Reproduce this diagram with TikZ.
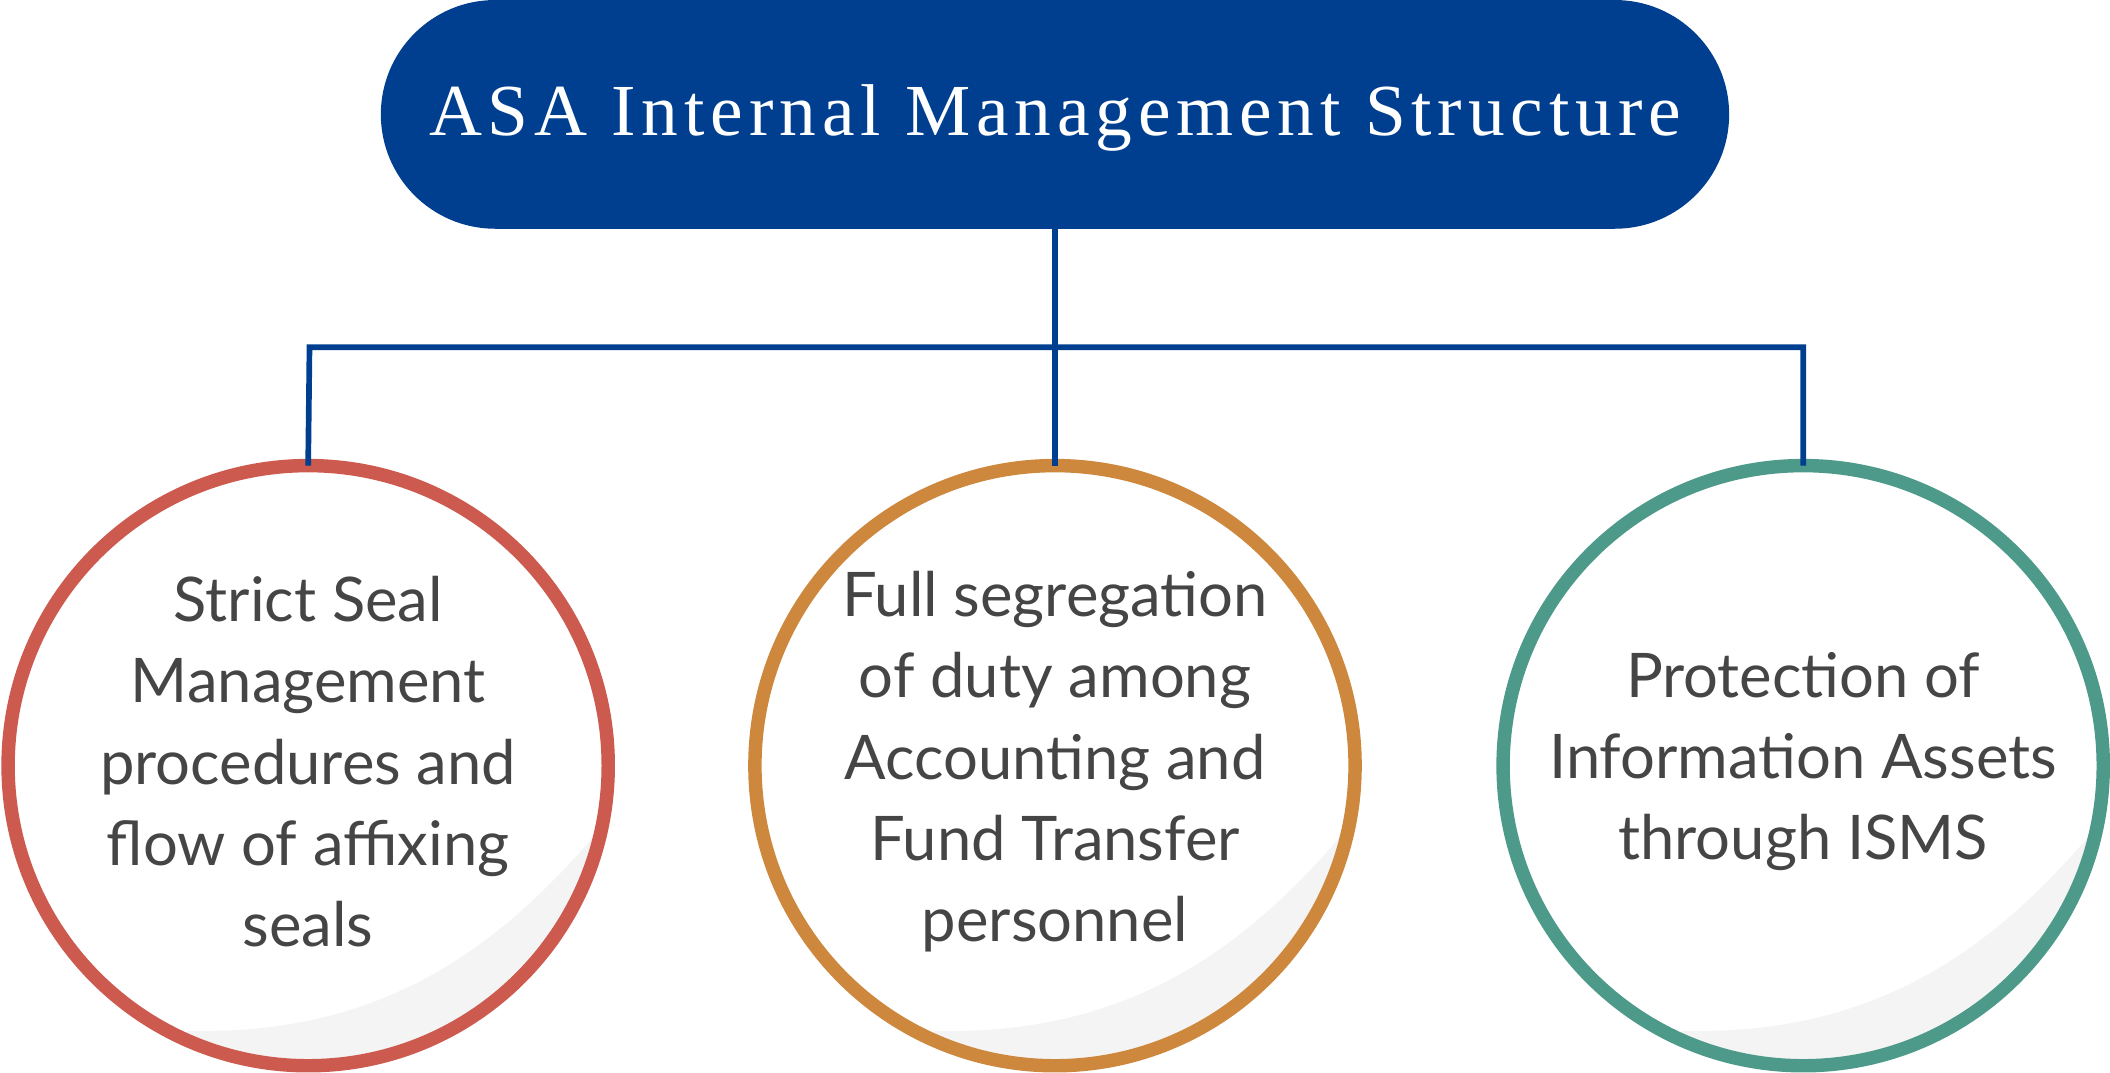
\documentclass[tikz,border=0pt]{standalone}
\usepackage{fontspec}
\setmainfont{Lato}
\newfontfamily\serifx{Liberation Serif}
\definecolor{navy}{HTML}{003F8F}
\definecolor{cred}{HTML}{CD5A4E}
\definecolor{corange}{HTML}{CD883E}
\definecolor{cteal}{HTML}{4E9A8A}
\definecolor{txt}{HTML}{454545}
\definecolor{swoosh}{HTML}{F4F4F4}
\begin{document}
\begin{tikzpicture}[x=0.01cm,y=-0.01cm,
  conn/.style={draw=navy,line width=1.2pt},
  ctext/.style={text=txt,align=center,font=\fontsize{13}{17.2}\selectfont},
  ring/.style={line width=0.1cm}]
\useasboundingbox (0,0) rectangle (1568,797);
\fill[navy,rounded corners=0.85cm] (283,0) rectangle (1285,170);
\node[text=white,font=\serifx\fontsize{15.5}{18}\selectfont] (title) at (784,88) {\addfontfeature{LetterSpace=8}ASA Internal Management Structure};
\coordinate (tb) at (784,170);
\coordinate (j) at (784,258);
\coordinate (jl) at (230,258);
\coordinate (jr) at (1340,258);
\foreach \n/\x/\c in {a/229/cred,b/784/corange,c/1340/cteal}{
  \begin{scope}
    \clip (\x,569) circle (223);
    \fill[swoosh] (\x-90,766) .. controls (\x+60,770) and (\x+150,700) .. (\x+230,600) -- (\x+240,800) -- (\x-100,800) -- cycle;
  \end{scope}
  \draw[ring,draw=\c] (\x,569) circle (223);
  \coordinate (\n) at (\x,346);
}
\draw[conn] (tb) -- (b);
\draw[conn] (a) -- (jl) -- (jr) -- (c);
\node[ctext] (ta) at (229,566) {Strict Seal\\Management\\procedures and\\flow of affixing\\seals};
\node[ctext] (tbx) at (784,566) {Full segregation\\of duty among\\Accounting and\\Fund Transfer\\personnel};
\node[ctext] (tc) at (1340,566) {Protection of\\Information Assets\\through ISMS};
\end{tikzpicture}
\end{document}
